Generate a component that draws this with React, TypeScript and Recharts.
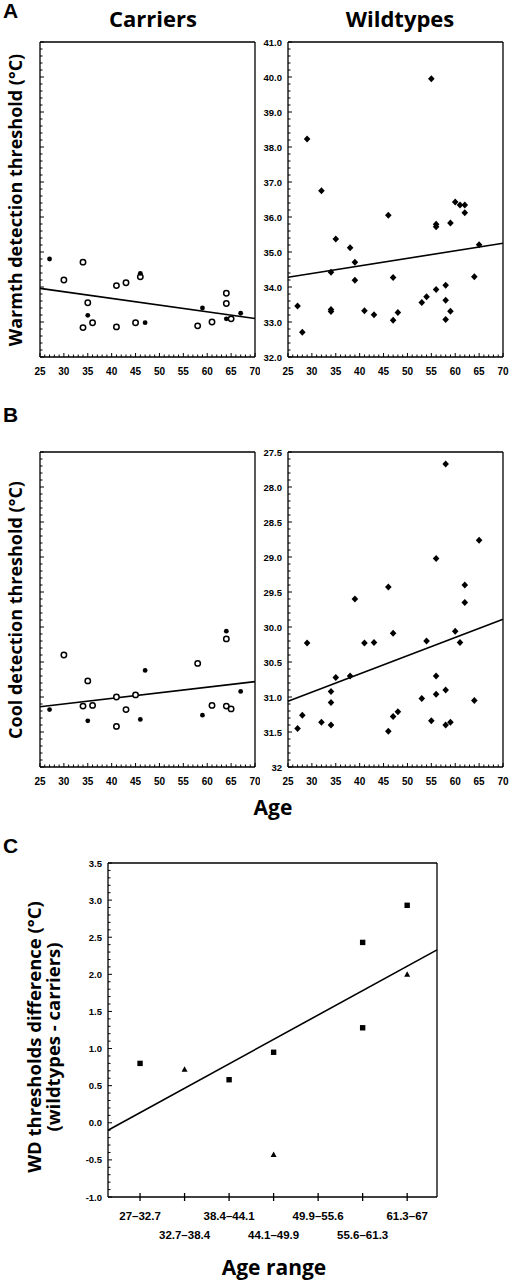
import React from 'react'
import { ScatterChart, Scatter, XAxis, YAxis, ReferenceLine } from 'recharts'

// A: warmth detection threshold (°C) vs age
const carriersWarmOpen = [
  { age: 30, t: 34.2 }, { age: 34, t: 34.71 }, { age: 41, t: 34.04 }, { age: 43, t: 34.12 },
  { age: 46, t: 34.29 }, { age: 35, t: 33.55 }, { age: 36, t: 32.98 }, { age: 34, t: 32.84 },
  { age: 41, t: 32.86 }, { age: 45, t: 32.98 }, { age: 58, t: 32.89 }, { age: 61, t: 33.0 },
  { age: 64, t: 33.82 }, { age: 64, t: 33.53 }, { age: 65, t: 33.09 },
]
const carriersWarmFilled = [
  { age: 27, t: 34.8 }, { age: 46, t: 34.39 }, { age: 35, t: 33.19 }, { age: 47, t: 32.98 },
  { age: 59, t: 33.4 }, { age: 64, t: 33.09 }, { age: 67, t: 33.25 },
]
const wildWarm = [
  { age: 27, t: 33.46 }, { age: 28, t: 32.71 }, { age: 29, t: 38.23 }, { age: 32, t: 36.75 },
  { age: 34, t: 34.42 }, { age: 34, t: 33.36 }, { age: 34, t: 33.3 }, { age: 35, t: 35.37 },
  { age: 38, t: 35.12 }, { age: 39, t: 34.71 }, { age: 39, t: 34.19 }, { age: 41, t: 33.32 },
  { age: 43, t: 33.21 }, { age: 46, t: 36.05 }, { age: 47, t: 34.27 }, { age: 47, t: 33.05 },
  { age: 48, t: 33.27 }, { age: 53, t: 33.56 }, { age: 54, t: 33.72 }, { age: 55, t: 39.95 },
  { age: 56, t: 35.79 }, { age: 56, t: 35.72 }, { age: 56, t: 33.93 }, { age: 58, t: 34.05 },
  { age: 58, t: 33.62 }, { age: 58, t: 33.07 }, { age: 59, t: 35.83 }, { age: 59, t: 33.31 },
  { age: 60, t: 36.43 }, { age: 61, t: 36.34 }, { age: 62, t: 36.34 }, { age: 62, t: 36.12 },
  { age: 64, t: 34.29 }, { age: 65, t: 35.21 },
]
const carriersWarmFit = [{ age: 25, t: 33.96 }, { age: 70, t: 33.1 }]
const wildWarmFit = [{ age: 25, t: 34.28 }, { age: 70, t: 35.25 }]

// B: cool detection threshold (°C) vs age
const carriersCoolOpen = [
  { age: 30, t: 30.4 }, { age: 35, t: 30.77 }, { age: 34, t: 31.13 }, { age: 36, t: 31.12 },
  { age: 41, t: 31.0 }, { age: 41, t: 31.42 }, { age: 43, t: 31.18 }, { age: 45, t: 30.97 },
  { age: 58, t: 30.52 }, { age: 61, t: 31.12 }, { age: 64, t: 30.17 }, { age: 64, t: 31.13 },
  { age: 65, t: 31.17 },
]
const carriersCoolFilled = [
  { age: 27, t: 31.18 }, { age: 35, t: 31.34 }, { age: 46, t: 31.32 }, { age: 47, t: 30.62 },
  { age: 59, t: 31.26 }, { age: 64, t: 30.06 }, { age: 67, t: 30.92 },
]
const wildCool = [
  { age: 58, t: 27.67 }, { age: 65, t: 28.76 }, { age: 56, t: 29.02 }, { age: 46, t: 29.43 },
  { age: 62, t: 29.4 }, { age: 39, t: 29.6 }, { age: 62, t: 29.65 }, { age: 29, t: 30.23 },
  { age: 41, t: 30.23 }, { age: 43, t: 30.22 }, { age: 47, t: 30.09 }, { age: 54, t: 30.2 },
  { age: 60, t: 30.06 }, { age: 61, t: 30.22 }, { age: 35, t: 30.72 }, { age: 38, t: 30.7 },
  { age: 34, t: 30.92 }, { age: 34, t: 31.08 }, { age: 28, t: 31.26 }, { age: 27, t: 31.45 },
  { age: 32, t: 31.36 }, { age: 34, t: 31.4 }, { age: 46, t: 31.49 }, { age: 47, t: 31.28 },
  { age: 48, t: 31.21 }, { age: 53, t: 31.02 }, { age: 56, t: 30.7 }, { age: 56, t: 30.96 },
  { age: 58, t: 30.9 }, { age: 55, t: 31.34 }, { age: 58, t: 31.4 }, { age: 59, t: 31.36 },
  { age: 64, t: 31.05 },
]
const carriersCoolFit = [{ age: 25, t: 31.14 }, { age: 70, t: 30.78 }]
const wildCoolFit = [{ age: 25, t: 31.06 }, { age: 70, t: 29.89 }]

// C: WD threshold difference by age range
const ageRanges = ['27–32.7', '32.7–38.4', '38.4–44.1', '44.1–49.9', '49.9–55.6', '55.6–61.3', '61.3–67']
const diffSquares = [
  { bin: 1, d: 0.8 }, { bin: 3, d: 0.58 }, { bin: 4, d: 0.95 },
  { bin: 6, d: 2.43 }, { bin: 6, d: 1.28 }, { bin: 7, d: 2.93 },
]
const diffTriangles = [{ bin: 2, d: 0.72 }, { bin: 4, d: -0.43 }, { bin: 7, d: 2.0 }]
const diffFit = [{ bin: 0.28, d: -0.1 }, { bin: 7.67, d: 2.33 }]

const range = (from: number, to: number, step: number) => {
  const out: number[] = []
  for (let v = from; v <= to + 1e-9; v += step) out.push(Math.round(v * 100) / 100)
  return out
}
const ageTicks = range(25, 70, 1)
const warmTicks = range(32, 41, 0.2)
const coolTicks = range(27.5, 32, 0.1)
const diffTicks = range(-1, 3.5, 0.1)
const binTicks = [1, 2, 3, 4, 5, 6, 7]

const tickFont = { fontFamily: 'Liberation Sans, Arial, sans-serif', fontWeight: 700, fontSize: 10, fill: '#000' }
const titleFont = { fontFamily: "'Open Sans', sans-serif", fontWeight: 700, fill: '#000' }
const frame = { stroke: '#000', strokeWidth: 1.3 }

const isMultiple = (v: number, step: number) => Math.abs(v / step - Math.round(v / step)) < 1e-6

// x ticks: dir 1 = bottom axis (ticks point up), -1 = top axis
const xTick = (labels: boolean, dir: number) => (p: any) => {
  const v = p.payload.value
  const major = isMultiple(v, 5)
  return (
    <g>
      <line x1={p.x} x2={p.x} y1={p.y} y2={p.y - dir * (major ? 4 : 2.5)} stroke="#000" strokeWidth={1} />
      {labels && major && (
        <text x={p.x} y={p.y + 18} textAnchor="middle" style={tickFont}>{v}</text>
      )}
    </g>
  )
}

// y ticks: dir 1 = left axis (ticks point right), -1 = right axis
const yTick = (majorStep: number, dir: number, fmt?: (v: number) => string) => (p: any) => {
  const v = p.payload.value
  const major = isMultiple(v, majorStep)
  return (
    <g>
      <line x1={p.x} x2={p.x + dir * (major ? 4 : 2.5)} y1={p.y} y2={p.y} stroke="#000" strokeWidth={1} />
      {fmt && major && (
        <text x={p.x - 6} y={p.y + 3.5} textAnchor="end" style={{ ...tickFont, fontSize: 9.5 }}>{fmt(v)}</text>
      )}
    </g>
  )
}

const openCircle = (p: any) => <circle cx={p.cx} cy={p.cy} r={2.7} fill="#fff" stroke="#000" strokeWidth={1.5} />
const dot = (p: any) => <circle cx={p.cx} cy={p.cy} r={2.4} fill="#000" />
const diamond = (p: any) => (
  <polygon points={`${p.cx},${p.cy - 3.5} ${p.cx + 3.3},${p.cy} ${p.cx},${p.cy + 3.5} ${p.cx - 3.3},${p.cy}`} fill="#000" />
)
const square = (p: any) => <rect x={p.cx - 2.7} y={p.cy - 2.7} width={5.4} height={5.4} fill="#000" />
const triangle = (p: any) => (
  <polygon points={`${p.cx},${p.cy - 3.2} ${p.cx + 3},${p.cy + 2.3} ${p.cx - 3},${p.cy + 2.3}`} fill="#000" />
)

type Pt = { age: number; t: number }

interface AgePanelProps {
  left: number
  top: number
  height: number
  marginTop: number
  marginRight: number
  yAxisWidth: number
  yDomain: [number, number]
  yTicks: number[]
  yMajor: number
  reversed?: boolean
  yFormat?: (v: number) => string
  series: { data: Pt[]; shape: (p: any) => React.ReactElement }[]
  fit: Pt[]
}

// top / right axes are 1px thick so they still render: margins are reduced by that pixel
function AgePanel(props: AgePanelProps) {
  const { left, top, height, marginTop, marginRight, yAxisWidth, yDomain, yTicks, yMajor, reversed, yFormat, series, fit } = props
  return (
    <div style={{ position: 'absolute', left, top }}>
      <ScatterChart width={260} height={height} margin={{ top: marginTop - 1, right: marginRight - 1, bottom: 3, left: 0 }}>
        <XAxis xAxisId="b" type="number" dataKey="age" domain={[25, 70]} ticks={ageTicks} interval={0}
          tickSize={0} tickMargin={0} tickLine={false} axisLine={frame} tick={xTick(true, 1)} height={30} />
        <XAxis xAxisId="t" orientation="top" type="number" dataKey="age" domain={[25, 70]} ticks={ageTicks} interval={0}
          tickSize={0} tickMargin={0} tickLine={false} axisLine={frame} tick={xTick(false, -1)} height={1} />
        <YAxis yAxisId="l" type="number" dataKey="t" domain={yDomain} reversed={reversed} ticks={yTicks} interval={0}
          tickSize={0} tickMargin={0} tickLine={false} axisLine={frame} tick={yTick(yMajor, 1, yFormat)} width={yAxisWidth} />
        <YAxis yAxisId="r" orientation="right" type="number" dataKey="t" domain={yDomain} reversed={reversed} ticks={yTicks}
          interval={0} tickSize={0} tickMargin={0} tickLine={false} axisLine={frame} tick={yTick(yMajor, -1)} width={1} />
        <Scatter xAxisId="t" yAxisId="r" data={[]} isAnimationActive={false} />
        <ReferenceLine xAxisId="b" yAxisId="l" stroke="#000" strokeWidth={1.6}
          segment={[{ x: fit[0].age, y: fit[0].t }, { x: fit[1].age, y: fit[1].t }]} />
        {series.map((s, i) => (
          <Scatter key={i} xAxisId="b" yAxisId="l" data={s.data} shape={s.shape} isAnimationActive={false} />
        ))}
      </ScatterChart>
    </div>
  )
}

const binTick = (p: any) => {
  const v = p.payload.value
  const row = v % 2 === 1 ? 0 : 1
  return (
    <g>
      <line x1={p.x} x2={p.x} y1={p.y - 4} y2={p.y + 4} stroke="#000" strokeWidth={1.3} />
      <text x={p.x} y={p.y + 23 + row * 19} textAnchor="middle" style={{ ...tickFont, fontSize: 11.5 }}>
        {ageRanges[v - 1]}
      </text>
    </g>
  )
}

function DiffPanel() {
  return (
    <div style={{ position: 'absolute', left: 60, top: 840 }}>
      <ScatterChart width={390} height={410} margin={{ top: 22, right: 12, bottom: 3, left: 0 }}>
        <XAxis xAxisId="b" type="number" dataKey="bin" domain={[0.28, 7.67]} ticks={binTicks} interval={0}
          tickSize={0} tickMargin={0} tickLine={false} axisLine={frame} tick={binTick} height={50} />
        <XAxis xAxisId="t" orientation="top" type="number" dataKey="bin" domain={[0.28, 7.67]} ticks={binTicks}
          tick={false} tickLine={false} axisLine={frame} height={1} />
        <YAxis yAxisId="l" type="number" dataKey="d" domain={[-1, 3.5]} ticks={diffTicks} interval={0}
          tickSize={0} tickMargin={0} tickLine={false} axisLine={frame}
          tick={yTick(0.5, 1, (v) => v.toFixed(1))} width={48} />
        <YAxis yAxisId="r" orientation="right" type="number" dataKey="d" domain={[-1, 3.5]} ticks={diffTicks} interval={0}
          tickSize={0} tickMargin={0} tickLine={false} axisLine={frame} tick={yTick(0.5, -1)} width={1} />
        <Scatter xAxisId="t" yAxisId="r" data={[]} isAnimationActive={false} />
        <ReferenceLine xAxisId="b" yAxisId="l" stroke="#000" strokeWidth={1.6}
          segment={[{ x: diffFit[0].bin, y: diffFit[0].d }, { x: diffFit[1].bin, y: diffFit[1].d }]} />
        <Scatter xAxisId="b" yAxisId="l" data={diffSquares} shape={square} isAnimationActive={false} />
        <Scatter xAxisId="b" yAxisId="l" data={diffTriangles} shape={triangle} isAnimationActive={false} />
      </ScatterChart>
    </div>
  )
}

export default function App() {
  const warmFmt = (v: number) => v.toFixed(1)
  const coolFmt = (v: number) => (v === 32 ? '32' : v.toFixed(1))
  return (
    <div style={{ position: 'absolute', left: 0, top: 0, width: 510, height: 1280, background: '#fff' }}>
      <AgePanel left={0} top={0} height={390} marginTop={42} marginRight={5} yAxisWidth={40}
        yDomain={[32, 41]} yTicks={warmTicks} yMajor={1} fit={carriersWarmFit}
        series={[{ data: carriersWarmOpen, shape: openCircle }, { data: carriersWarmFilled, shape: dot }]} />
      <AgePanel left={250} top={0} height={390} marginTop={42} marginRight={7} yAxisWidth={38}
        yDomain={[32, 41]} yTicks={warmTicks} yMajor={1} yFormat={warmFmt} fit={wildWarmFit}
        series={[{ data: wildWarm, shape: diamond }]} />
      <AgePanel left={0} top={420} height={380} marginTop={32} marginRight={5} yAxisWidth={40}
        yDomain={[27.5, 32]} yTicks={coolTicks} yMajor={0.5} reversed fit={carriersCoolFit}
        series={[{ data: carriersCoolOpen, shape: openCircle }, { data: carriersCoolFilled, shape: dot }]} />
      <AgePanel left={250} top={420} height={380} marginTop={32} marginRight={7} yAxisWidth={38}
        yDomain={[27.5, 32]} yTicks={coolTicks} yMajor={0.5} reversed yFormat={coolFmt} fit={wildCoolFit}
        series={[{ data: wildCool, shape: diamond }]} />
      <DiffPanel />
      <svg width={510} height={1280} style={{ position: 'absolute', left: 0, top: 0, pointerEvents: 'none' }}>
        <text x={3} y={18} style={{ ...titleFont, fontFamily: 'Liberation Sans, Arial', fontSize: 21 }}>A</text>
        <text x={3} y={422} style={{ ...titleFont, fontFamily: 'Liberation Sans, Arial', fontSize: 21 }}>B</text>
        <text x={3} y={853} style={{ ...titleFont, fontFamily: 'Liberation Sans, Arial', fontSize: 21 }}>C</text>
        <text x={153} y={27} textAnchor="middle" style={{ ...titleFont, fontSize: 22 }}>Carriers</text>
        <text x={400} y={27} textAnchor="middle" style={{ ...titleFont, fontSize: 22 }}>Wildtypes</text>
        <text transform="translate(22,200) rotate(-90)" textAnchor="middle" style={{ ...titleFont, fontSize: 18 }}>
          Warmth detection threshold (°C)
        </text>
        <text transform="translate(22,610) rotate(-90)" textAnchor="middle" style={{ ...titleFont, fontSize: 18 }}>
          Cool detection threshold (°C)
        </text>
        <text x={273} y={815} textAnchor="middle" style={{ ...titleFont, fontSize: 21 }}>Age</text>
        <text transform="translate(41,1037) rotate(-90)" textAnchor="middle" style={{ ...titleFont, fontSize: 18.5 }}>
          WD thresholds difference (°C)
        </text>
        <text transform="translate(60,1037) rotate(-90)" textAnchor="middle" style={{ ...titleFont, fontSize: 18.5 }}>
          (wildtypes - carriers)
        </text>
        <text x={274} y={1275} textAnchor="middle" style={{ ...titleFont, fontSize: 21 }}>Age range</text>
      </svg>
    </div>
  )
}
